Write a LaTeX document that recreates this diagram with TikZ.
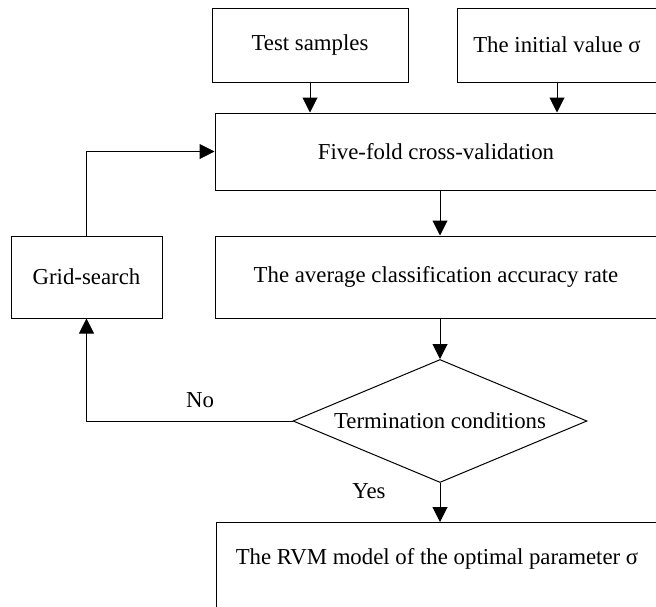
\documentclass[tikz,border=0pt]{standalone}
\usepackage{fontspec}
\setmainfont{Liberation Serif}
\usetikzlibrary{shapes.geometric,arrows.meta}
\begin{document}
\begin{tikzpicture}[x=1pt,y=-1pt,
  every node/.style={font=\fontsize{22.8}{27}\selectfont},
  box/.style={draw, line width=1pt, rectangle, inner sep=0pt},
  dec/.style={draw, line width=1pt, diamond, aspect=2.39, inner sep=0pt, minimum width=294pt, minimum height=123pt},
  conn/.style={line width=1pt, -{Triangle[length=15pt,width=15pt]}},
  lbl/.style={inner sep=0pt}]
\useasboundingbox (0,0) rectangle (656,606);
\clip (0,0) rectangle (656,606);
\node[box, minimum width=196pt, minimum height=74pt] (ts) at (310,45) {Test samples};
\node[box, minimum width=200pt, minimum height=74pt] (iv) at (557,45) {The initial value σ};
\node[box, minimum width=442pt, minimum height=77pt] (ff) at (436,151.5) {Five-fold cross-validation};
\node[box, minimum width=442pt, minimum height=82pt] (avg) at (436,277) {The average classification accuracy rate};
\node[box, minimum width=151pt, minimum height=82pt] (gs) at (86.5,277) {Grid-search};
\node[dec] (tc) at (440,421) {Termination conditions};
\node[box, anchor=north, minimum width=442pt, inner xsep=0pt, inner ysep=26pt, text height=16pt, text depth=50pt] (rvm) at (437,522) {The RVM model of the optimal parameter σ};
\draw[conn] (ts.south) -- (ts.south |- ff.north);
\draw[conn] (iv.south) -- (iv.south |- ff.north);
\draw[conn] (gs.north) |- (ff.west);
\draw[conn] (ff.south -| tc.north) -- (avg.north -| tc.north);
\draw[conn] (avg.south -| tc.north) -- (tc.north);
\draw[conn] (tc.west) -| (gs.south);
\draw[conn] (tc.south) -- (tc.south |- rvm.north);
\node[lbl] (no) at (200,400) {No};
\node[lbl] (yes) at (369,491) {Yes};
\end{tikzpicture}
\end{document}
